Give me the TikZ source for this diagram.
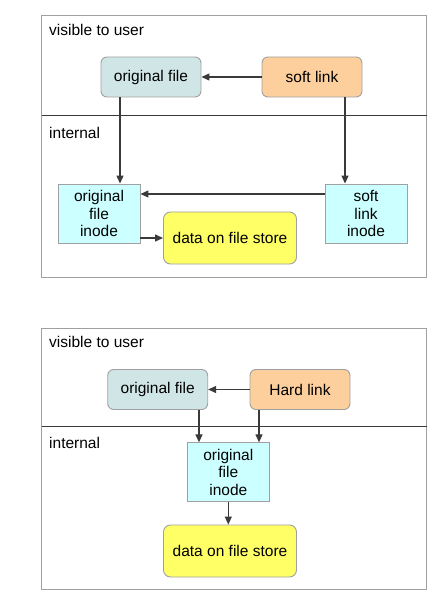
\documentclass[tikz,border=0pt]{standalone}
\usepackage{fontspec}
\setmainfont{Liberation Sans}
\usetikzlibrary{arrows.meta}

\definecolor{filecol}{HTML}{D0E6E6}
\definecolor{linkcol}{HTML}{FDCF9C}
\definecolor{inodecol}{HTML}{CCFFFF}
\definecolor{datacol}{HTML}{FFFF66}
\definecolor{edgecol}{HTML}{A0A0A0}
\definecolor{arrcol}{HTML}{3A3A3A}

\tikzset{
  box/.style={draw=edgecol, line width=0.9pt, inner sep=0pt, align=center,
    font=\fontsize{15.5}{17.5}\selectfont},
  userbox/.style={box, rounded corners=6pt, minimum width=100pt, minimum height=40pt},
  inodebox/.style={box, fill=inodecol, minimum width=82pt, minimum height=59pt},
  databox/.style={box, fill=datacol, rounded corners=7pt, minimum width=133pt, minimum height=52pt},
  arr/.style={-{Triangle[length=8pt,width=7pt]}, draw=arrcol, fill=arrcol, line width=1.2pt},
  lbl/.style={anchor=west, inner sep=0pt, font=\fontsize{15.5}{17.5}\selectfont},
}

\begin{document}
\begin{tikzpicture}[x=1pt, y=-1pt]
\useasboundingbox (0,0) rectangle (445,609);

\newcommand{\Fl}{41.7}; % frame left
\newcommand{\Fr}{426};  % frame right

%% soft link
\draw[draw=edgecol, line width=0.9pt] (\Fl,15) rectangle (\Fr,277);
\draw[draw=arrcol, line width=1pt] (\Fl,116) -- (\Fr+1,116);
\node[lbl] (svis) at (49,30) {visible to user};
\node[lbl] (sint) at (49,133) {internal};

\node[userbox, fill=filecol] (sfile) at (151,77) {original file};
\node[userbox, fill=linkcol] (slink) at (312,77) {soft link};
\node[inodebox] (sfnode) at (99,213.5) {original\\file\\inode};
\node[inodebox] (slnode) at (366,213.5) {soft\\link\\inode};
\node[databox] (sdata) at (230,238) {data on file store};

\draw[arr] (slink.west) -- (sfile.east);
\draw[arr] ([xshift=-31pt]sfile.south) -- ([xshift=21pt]sfnode.north);
\draw[arr] ([xshift=33pt]slink.south) -- ([xshift=-21pt]slnode.north);
\draw[arr] ([yshift=19.5pt]slnode.west) -- ([yshift=19.5pt]sfnode.east);
\draw[arr] ([yshift=-24.5pt]sfnode.east) -- (sdata.west);

%% hard link
\draw[draw=edgecol, line width=0.9pt] (\Fl,328) rectangle (\Fr,589);
\draw[draw=arrcol, line width=1pt] (\Fl,426) -- (\Fr+1,426);
\node[lbl] (hvis) at (49,342) {visible to user};
\node[lbl] (hint) at (49,443) {internal};

\node[userbox, fill=filecol] (hfile) at (157.7,389.5) {original file};
\node[userbox, fill=linkcol] (hlink) at (300,389.5) {Hard link};
\node[inodebox] (hfnode) at (228.3,472.3) {original\\file\\inode};
\node[databox] (hdata) at (230,551) {data on file store};

\draw[arr] (hlink.west) -- (hfile.east);
\draw[arr] ([xshift=41.3pt]hfile.south) -- ([xshift=-29.3pt]hfnode.north);
\draw[arr] ([xshift=-41pt]hlink.south) -- ([xshift=30.7pt]hfnode.north);
\draw[arr] (hfnode.south) -- (hfnode.south |- hdata.north);
\end{tikzpicture}
\end{document}
